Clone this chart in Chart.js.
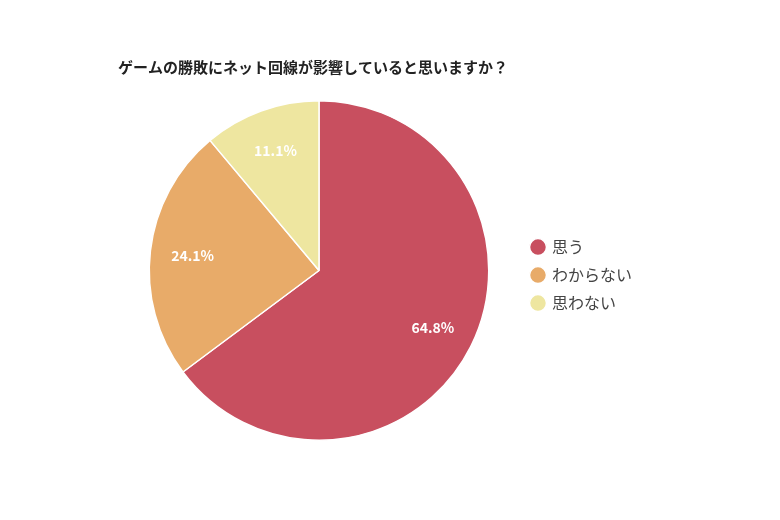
<!DOCTYPE html>
<html><head><meta charset="utf-8">
<script src="https://cdn.jsdelivr.net/npm/chart.js@4"></script>
<style>body{margin:0;background:#fff}#w{width:780px;height:520px}</style>
</head><body><div id="w"><canvas id="c"></canvas></div>
<script>
const titleText = 'ゲームの勝敗にネット回線が影響していると思いますか？';
const categories = ['思う', 'わからない', '思わない'];
const values = [64.8, 24.1, 11.1];
const colors = ['#C84F5F', '#E8AB69', '#EEE6A0'];
const fontFam = '"Noto Sans CJK JP", "Noto Sans", sans-serif';
const labelPlugin = {
  id: 'lbl',
  afterDatasetsDraw(chart) {
    const ctx = chart.ctx;
    const meta = chart.getDatasetMeta(0);
    ctx.save();
    ctx.fillStyle = '#fff';
    ctx.font = 'bold 14px ' + fontFam;
    ctx.textAlign = 'center'; ctx.textBaseline = 'middle';
    meta.data.forEach((arc, i) => {
      const mid = (arc.startAngle + arc.endAngle) / 2;
      const r = arc.outerRadius * 0.75;
      ctx.fillText(values[i].toFixed(1) + '%', arc.x + Math.cos(mid) * r, arc.y + Math.sin(mid) * r);
    });
    ctx.restore();
  }
};
new Chart(document.getElementById('c'), {
  type: 'pie',
  data: { labels: categories, datasets: [{ data: values, backgroundColor: colors, borderColor: '#fff', borderWidth: 1.5 }] },
  options: {
    responsive: true, maintainAspectRatio: false, animation: false,
    layout: { padding: { left: 118, right: 138, top: 58, bottom: 79 } },
    plugins: {
      title: { display: true, text: titleText, align: 'start', color: '#222', font: { family: fontFam, size: 15, weight: 'bold' }, padding: { top: 0, bottom: 24 } },
      legend: { position: 'right',
        title: { display: true, text: ' ', font: { size: 1 }, padding: { top: 0, bottom: 50 } },
        labels: { usePointStyle: true, pointStyle: 'circle', boxWidth: 12, boxHeight: 12, padding: 12, color: '#444', font: { family: fontFam, size: 16 } } },
      tooltip: { enabled: false }
    }
  },
  plugins: [labelPlugin]
});
</script></body></html>
